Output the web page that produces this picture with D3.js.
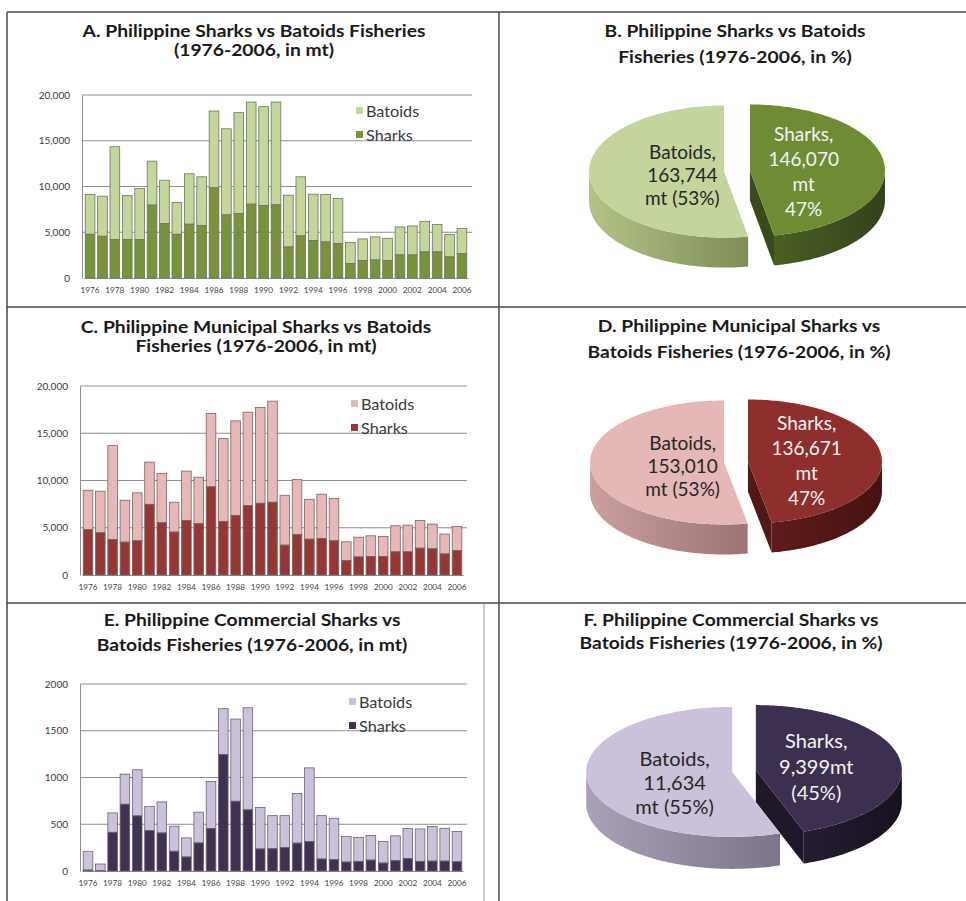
<!DOCTYPE html>
<html>
<head>
<meta charset="utf-8">
<script src="https://cdn.jsdelivr.net/npm/d3@7"></script>
<style>
  body { margin: 0; background: #fff; }
  svg text { font-family: Lato, "Open Sans", sans-serif; }
</style>
</head>
<body>
<svg id="fig" width="966" height="901"></svg>
<script>
// ---- data -------------------------------------------------------------
const years = [1976,1977,1978,1979,1980,1981,1982,1983,1984,1985,1986,1987,1988,1989,1990,
               1991,1992,1993,1994,1995,1996,1997,1998,1999,2000,2001,2002,2003,2004,2005,2006];
const xTickYears = [1976,1978,1980,1982,1984,1986,1988,1990,1992,1994,1996,1998,2000,2002,2004,2006];

// All fisheries (mt)
const allSharks  = [4780,4560,4200,4200,4200,7960,5950,4780,5880,5730,9850,6900,7040,8070,7920,
                    7990,3390,4600,4090,3940,3760,1570,1900,1970,1900,2520,2520,2850,2850,2300,2660];
const allBatoids = [4340,4380,10140,4800,5580,4810,4740,3470,5510,5330,8400,9410,11030,11160,10800,
                    11240,5660,6460,5070,5180,4930,2300,2370,2520,2440,3060,3170,3350,2990,2440,2740];

// Municipal fisheries (mt)
const munSharks  = [4820,4470,3760,3480,3620,7480,5530,4540,5780,5430,9330,5670,6310,7340,7590,
                    7700,3160,4290,3790,3870,3620,1520,1910,1950,1950,2450,2450,2840,2770,2230,2590];
const munBatoids = [4150,4400,9930,4430,5070,4470,5210,3160,5210,4920,7760,8760,10000,9890,10140,
                    10700,5280,5820,4220,4680,4470,1990,2090,2200,2130,2760,2830,2940,2620,2100,2550];

// Commercial fisheries (mt)
const comSharks  = [10,5,414,714,589,432,407,211,150,300,454,1246,746,654,236,
                    238,252,298,316,128,121,96,103,117,85,110,135,103,106,106,99];
const comBatoids = [201,70,207,322,493,257,332,268,204,329,503,490,879,1092,443,
                    354,340,532,787,464,443,273,255,262,231,266,319,347,369,351,323];

const yTicksBig   = [0,5000,10000,15000,20000];
const yTicksSmall = [0,500,1000,1500,2000];

// Totals 1976-2006: [sharks, batoids]
const pieAll = [146070, 163744];
const pieMun = [136671, 153010];
const pieCom = [9399, 11634];

const pieAllLabels = [["Sharks,","146,070","mt","47%"], ["Batoids,","163,744","mt (53%)"]];
const pieMunLabels = [["Sharks,","136,671","mt","47%"], ["Batoids,","153,010","mt (53%)"]];
const pieComLabels = [["Sharks,","9,399mt","(45%)"],    ["Batoids,","11,634","mt (55%)"]];

const seriesNames = ["Batoids","Sharks"];

// ---- canvas ------------------------------------------------------------
const svg = d3.select("#fig");
svg.append("rect").attr("width",966).attr("height",901).attr("fill","#fff");
const defs = svg.append("defs");

// table rules
const rules = svg.append("g").attr("stroke","#4a4a4a").attr("stroke-width",1.5);
[[7,12,966,12],[7,12,7,901],[499,12,499,901],[7,307,966,307],[7,603,966,603]].forEach(r =>
  rules.append("line").attr("x1",r[0]).attr("y1",r[1]).attr("x2",r[2]).attr("y2",r[3]));
svg.append("line").attr("x1",484).attr("y1",603).attr("x2",484).attr("y2",901)
  .attr("stroke","#9a9a9a").attr("stroke-width",1);

// titles (slightly widened bold face)
function title(lines, cx, ys) {
  lines.forEach((t,i) => svg.append("text")
    .attr("transform", `translate(${cx},${ys[i]}) scale(1.17,1)`)
    .attr("text-anchor","middle").attr("font-weight","bold").attr("font-size",16.5)
    .attr("fill","#1a1a1a").text(t));
}
title(["A. Philippine Sharks vs Batoids Fisheries","(1976-2006, in mt)"], 254, [37,56]);
title(["B. Philippine Sharks vs Batoids","Fisheries  (1976-2006, in %)"], 735, [37,63]);
title(["C. Philippine  Municipal Sharks vs Batoids","Fisheries  (1976-2006, in mt)"], 256, [333,352]);
title(["D. Philippine Municipal Sharks vs","Batoids Fisheries  (1976-2006, in %)"], 739, [332,358]);
title(["E. Philippine  Commercial Sharks vs","Batoids Fisheries  (1976-2006, in mt)"], 252, [626,651]);
title(["F. Philippine Commercial Sharks vs","Batoids Fisheries  (1976-2006, in %)"], 731, [626,649]);

// ---- stacked column panels ---------------------------------------------
function barPanel(c) {
  const x = d3.scaleBand().domain(years).range([c.x0 + 2, c.x1 - 4])
    .paddingInner(0.22).paddingOuter(0.1);
  const y = d3.scaleLinear().domain([0, c.max]).range([c.yBottom, c.yTop]);
  const g = svg.append("g");

  g.selectAll("line.grid").data(c.ticks.slice(1)).join("line")
    .attr("x1", c.x0).attr("x2", c.x1)
    .attr("y1", d => y(d)).attr("y2", d => y(d))
    .attr("stroke", "#8f8f8f").attr("stroke-width", 1);

  const ay = g.append("g").attr("transform", `translate(${c.x0},0)`)
    .call(d3.axisLeft(y).tickValues(c.ticks).tickFormat(c.fmt).tickSize(0).tickPadding(12));
  ay.select(".domain").attr("stroke", "#8f8f8f");
  ay.selectAll("text").attr("font-size", 10).attr("fill", "#3a3a3a");

  const ax = g.append("g").attr("transform", `translate(0,${c.yBottom})`)
    .call(d3.axisBottom(x).tickValues(xTickYears).tickFormat(d3.format("d")).tickSize(0).tickPadding(9));
  ax.select(".domain").attr("stroke", "#8f8f8f");
  ax.selectAll("text").attr("font-size", 8.2).attr("fill", "#444")
    .attr("font-family", "'Liberation Sans Narrow', 'Liberation Sans', sans-serif");

  const rows = years.map((yr, i) => ({ yr, s: c.sharks[i], b: c.batoids[i] }));
  const bars = g.selectAll("g.bar").data(rows).join("g");
  bars.append("rect")
    .attr("x", d => x(d.yr)).attr("width", x.bandwidth())
    .attr("y", d => y(d.s + d.b)).attr("height", d => y(d.s) - y(d.s + d.b))
    .attr("fill", c.colors[0]).attr("stroke", c.edge).attr("stroke-width", 0.8);
  bars.append("rect")
    .attr("x", d => x(d.yr)).attr("width", x.bandwidth())
    .attr("y", d => y(d.s)).attr("height", d => y(0) - y(d.s))
    .attr("fill", c.colors[1]).attr("stroke", c.edge).attr("stroke-width", 0.8);

  const lg = g.append("g");
  seriesNames.forEach((name, i) => {
    const ly = c.legendY + i * 24;
    lg.append("rect").attr("x", c.legendX).attr("y", ly - 4).attr("width", 7).attr("height", 7)
      .attr("fill", c.colors[i]);
    lg.append("text").attr("transform", `translate(${c.legendX + 10},${ly}) scale(1.08,1)`)
      .attr("dominant-baseline", "central")
      .attr("font-size", 15).attr("fill", "#3a3a3a").text(name);
  });
}

const commaFmt = d3.format(",");
barPanel({ sharks: allSharks, batoids: allBatoids, x0: 82, x1: 472, yTop: 95, yBottom: 278,
  max: 20000, ticks: yTicksBig, fmt: commaFmt, colors: ["#c3d69b", "#77933c"], edge: "#6d7560",
  legendX: 356, legendY: 111 });
barPanel({ sharks: munSharks, batoids: munBatoids, x0: 80, x1: 467, yTop: 386, yBottom: 575,
  max: 20000, ticks: yTicksBig, fmt: commaFmt, colors: ["#e6b9b8", "#953735"], edge: "#7a6565",
  legendX: 351, legendY: 404 });
barPanel({ sharks: comSharks, batoids: comBatoids, x0: 80, x1: 467, yTop: 684, yBottom: 871,
  max: 2000, ticks: yTicksSmall, fmt: d3.format("d"), colors: ["#ccc1da", "#403152"], edge: "#6a6475",
  legendX: 349, legendY: 702 });

// ---- 3-D exploded pies ---------------------------------------------------
let gradId = 0;
function hGrad(c0, c1) {
  const id = "g" + (gradId++);
  const lg = defs.append("linearGradient").attr("id", id).attr("x1", 0).attr("x2", 1).attr("y1", 0).attr("y2", 0);
  lg.append("stop").attr("offset", "0%").attr("stop-color", c0);
  lg.append("stop").attr("offset", "100%").attr("stop-color", c1);
  return `url(#${id})`;
}

function pie3d(c) {
  const arcs = d3.pie().sort(null).startAngle(0).endAngle(2 * Math.PI)(c.values);
  const g = svg.append("g");
  const step = Math.PI / 180;
  arcs.forEach((a, i) => {
    const m = (a.startAngle + a.endAngle) / 2;
    const ox = c.cx + c.explode * Math.sin(m);
    const oy = c.cy - c.explode * Math.cos(m) * c.ry / c.rx;
    const P = (t, dz = 0) => [ox + c.rx * Math.sin(t), oy - c.ry * Math.cos(t) + dz];
    const sg = g.append("g");

    // visible cut face (slice end edge facing the viewer)
    [[a.startAngle, -1], [a.endAngle, 1]].forEach(([t, side]) => {
      const vis = side < 0 ? Math.sin(t) < -1e-6 : Math.sin(t) > 1e-6;
      if (!vis) return;
      const p = P(t), p2 = P(t, c.depth);
      const path = d3.path();
      path.moveTo(ox, oy); path.lineTo(p[0], p[1]); path.lineTo(p2[0], p2[1]);
      path.lineTo(ox, oy + c.depth); path.closePath();
      sg.append("path").attr("d", path.toString()).attr("fill", c.faces[i]);
    });

    // outer wall on the front half
    const lo = Math.max(a.startAngle, Math.PI / 2), hi = Math.min(a.endAngle, 3 * Math.PI / 2);
    if (hi > lo) {
      const path = d3.path();
      const n = Math.max(2, Math.ceil((hi - lo) / step));
      for (let k = 0; k <= n; k++) {
        const p = P(lo + (hi - lo) * k / n);
        k === 0 ? path.moveTo(p[0], p[1]) : path.lineTo(p[0], p[1]);
      }
      for (let k = n; k >= 0; k--) {
        const p = P(lo + (hi - lo) * k / n, c.depth);
        path.lineTo(p[0], p[1]);
      }
      path.closePath();
      sg.append("path").attr("d", path.toString()).attr("fill", hGrad(c.walls[i][0], c.walls[i][1]));
    }

    // top face
    const top = d3.path();
    top.moveTo(ox, oy);
    const n = Math.ceil((a.endAngle - a.startAngle) / step);
    for (let k = 0; k <= n; k++) {
      const p = P(a.startAngle + (a.endAngle - a.startAngle) * k / n);
      top.lineTo(p[0], p[1]);
    }
    top.closePath();
    sg.append("path").attr("d", top.toString()).attr("fill", c.tops[i]);

    // label
    const lx = ox + c.labelR[i] * c.rx * Math.sin(m);
    const lines = c.labels[i];
    const lh = c.lineH[i];
    const ly0 = c.cy + c.labelDy[i] - (lines.length - 1) * lh / 2;
    lines.forEach((t, k) => sg.append("text").attr("x", lx).attr("y", ly0 + k * lh)
      .attr("text-anchor", "middle").attr("dominant-baseline", "central")
      .attr("font-size", c.fontSize).attr("fill", c.textColors[i]).text(t));
  });
}

pie3d({ values: pieAll, labels: pieAllLabels, cx: 737, cy: 171, rx: 135, ry: 66, depth: 30, explode: 13,
  tops: ["#6f8b34", "#c3d59d"], walls: [["#4b5f24", "#33421a"], ["#b2c387", "#7f8d58"]],
  faces: ["#3a4a1d", "#8f9d66"], textColors: ["#f4f4f4", "#262626"],
  labelR: [0.4, 0.31], labelDy: [0, 3], lineH: [25, 23], fontSize: 19 });

pie3d({ values: pieMun, labels: pieMunLabels, cx: 736, cy: 462, rx: 134, ry: 62, depth: 30, explode: 12,
  tops: ["#8e2f2d", "#e5b7b6"], walls: [["#5e1c1b", "#451211"], ["#caa09f", "#9b7473"]],
  faces: ["#521817", "#b08a89"], textColors: ["#f4f4f4", "#262626"],
  labelR: [0.44, 0.31], labelDy: [-2, 3], lineH: [25, 23], fontSize: 19 });

pie3d({ values: pieCom, labels: pieComLabels, cx: 744, cy: 771, rx: 146, ry: 65, depth: 32, explode: 12,
  tops: ["#3d2f50", "#ccc1da"], walls: [["#261d33", "#17111f"], ["#aaa1b8", "#7c7489"]],
  faces: ["#1f1829", "#958da2"], textColors: ["#f4f4f4", "#262626"],
  labelR: [0.42, 0.4], labelDy: [-5, 11], lineH: [26, 24], fontSize: 20 });
</script>
</body>
</html>
